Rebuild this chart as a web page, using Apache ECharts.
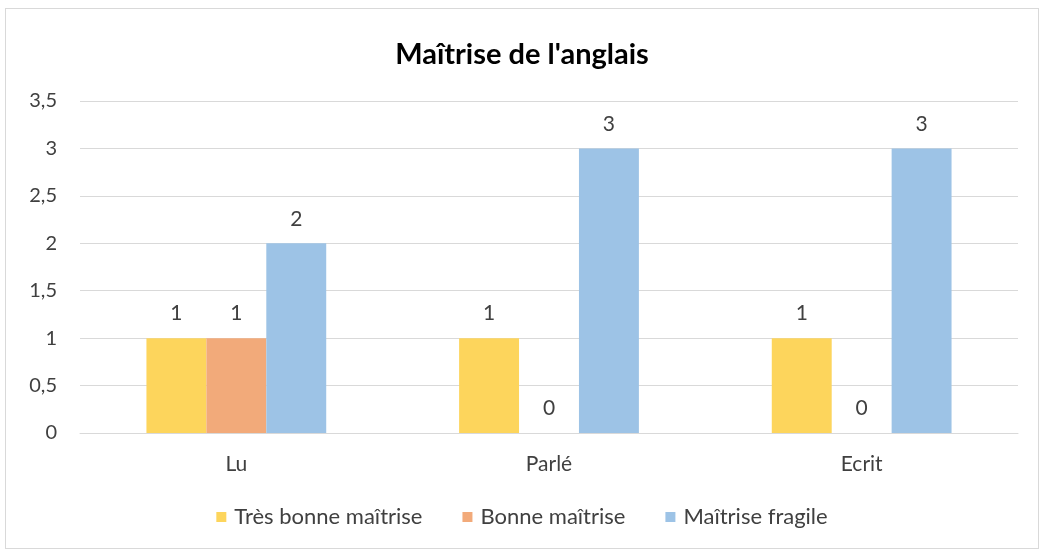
<!DOCTYPE html>
<html>
<head>
<meta charset="utf-8">
<script src="https://cdn.jsdelivr.net/npm/echarts@6/dist/echarts.min.js"></script>
<style>
  html, body { margin: 0; padding: 0; background: #fff; }
  .frame {
    position: absolute; left: 5px; top: 8px; width: 1034px; height: 541px;
    border: 1px solid #d9d9d9; box-sizing: border-box;
  }
  #chart { position: absolute; left: 0; top: 0; width: 1044px; height: 553px; }
</style>
</head>
<body>
<div class="frame"></div>
<div id="chart"></div>
<script>
// données
const categories = ['Lu', 'Parlé', 'Ecrit']
const seriesNames = ['Très bonne maîtrise', 'Bonne maîtrise', 'Maîtrise fragile']
const tresBonne = [1, 1, 1]
const bonne = [1, 0, 0]
const fragile = [2, 3, 3]
const colors = ['#FDD55C', '#F2AA7A', '#9DC3E6']

const font = 'Lato, "Open Sans", sans-serif'
const chart = echarts.init(document.getElementById('chart'))

const values = [tresBonne, bonne, fragile]
let series = []
for (let i = 0; i < seriesNames.length; i++) {
  series.push({
    name: seriesNames[i],
    type: 'bar',
    barGap: 0,
    barCategoryGap: '42.5%',
    itemStyle: { color: colors[i] },
    label: {
      show: true,
      position: 'top',
      distance: 14,
      color: '#404040',
      fontSize: 21,
      fontFamily: font,
    },
    data: values[i],
  })
}

const option = {
  animation: false,
  title: {
    text: "Maîtrise de l'anglais",
    left: 'center',
    top: 35,
    textStyle: { fontSize: 29, fontWeight: 'bold', color: '#000', fontFamily: font },
  },
  legend: {
    data: seriesNames,
    bottom: 20,
    left: 'center',
    itemWidth: 10,
    itemHeight: 10,
    itemGap: 40,
    icon: 'rect',
    textStyle: { fontSize: 22, color: '#404040', fontFamily: font, padding: [0, 0, 0, 3] },
  },
  grid: { left: 80, right: 26, top: 101, bottom: 120, containLabel: false },
  xAxis: {
    type: 'category',
    data: categories,
    axisLine: { lineStyle: { color: '#d9d9d9' } },
    axisTick: { show: false },
    axisLabel: { color: '#404040', fontSize: 21, margin: 21, fontFamily: font },
  },
  yAxis: {
    type: 'value',
    min: 0,
    max: 3.5,
    interval: 0.5,
    axisLine: { show: false },
    axisTick: { show: false },
    splitLine: { lineStyle: { color: '#d9d9d9' } },
    axisLabel: {
      color: '#404040',
      fontSize: 20,
      margin: 23,
      fontFamily: font,
      formatter: function (v) { return String(v).replace('.', ',') },
    },
  },
  series: series,
}
chart.setOption(option)
</script>
</body>
</html>
